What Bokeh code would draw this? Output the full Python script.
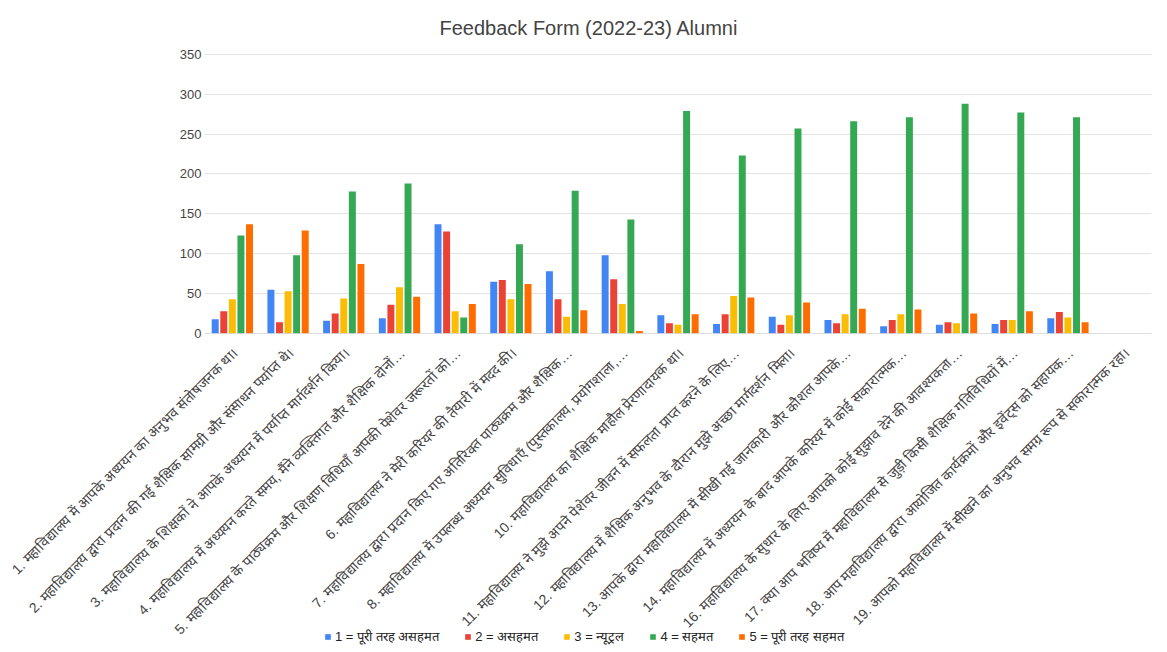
import math
from bokeh.plotting import figure
from bokeh.models import ColumnDataSource, FactorRange, Legend, LegendItem, Range1d, Span
from bokeh.transform import dodge
from bokeh.embed import file_html
from bokeh.resources import INLINE

categories = [
    "1. महाविद्यालय में आपके अध्ययन का अनुभव संतोषजनक था।",
    "2. महाविद्यालय द्वारा प्रदान की गई शैक्षिक सामग्री और संसाधन पर्याप्त थे।",
    "3. महाविद्यालय के शिक्षकों ने आपके अध्ययन में पर्याप्त मार्गदर्शन किया।",
    "4. महाविद्यालय में अध्ययन करते समय, मैंने व्यक्तिगत और शैक्षिक दोनों…",
    "5. महाविद्यालय के पाठ्यक्रम और शिक्षण विधियाँ आपकी पेशेवर जरूरतों को…",
    "6. महाविद्यालय ने मेरी करियर की तैयारी में मदद की।",
    "7. महाविद्यालय द्वारा प्रदान किए गए अतिरिक्त पाठ्यक्रम और शैक्षिक…",
    "8. महाविद्यालय में उपलब्ध अध्ययन सुविधाएँ (पुस्तकालय, प्रयोगशाला,…",
    "10. महाविद्यालय का शैक्षिक माहौल प्रेरणादायक था।",
    "11. महाविद्यालय ने मुझे अपने पेशेवर जीवन में सफलता प्राप्त करने के लिए…",
    "12. महाविद्यालय में शैक्षिक अनुभव के दौरान मुझे अच्छा मार्गदर्शन मिला।",
    "13. आपके द्वारा महाविद्यालय में सीखी गई जानकारी और कौशल आपके…",
    "14. महाविद्यालय में अध्ययन के बाद आपके करियर में कोई सकारात्मक…",
    "16. महाविद्यालय के सुधार के लिए आपको कोई सुझाव देने की आवश्यकता…",
    "17. क्या आप भविष्य में महाविद्यालय से जुड़ी किसी शैक्षिक गतिविधियों में…",
    "18. आप महाविद्यालय द्वारा आयोजित कार्यक्रमों और इवेंट्स को सहायक…",
    "19. आपको महाविद्यालय में सीखने का अनुभव समग्र रूप से सकारात्मक रहा।",
]

series_names = [
    "1 = पूरी तरह असहमत",
    "2 = असहमत",
    "3 = न्यूट्रल",
    "4 = सहमत",
    "5 = पूरी तरह सहमत",
]

nan = float("nan")
s1 = [18, 55, 16, 19, 137, 65, 78, 98, 23, 12, 21, 17, 9, 11, 12, 19, nan]
s2 = [28, 14, 25, 36, 128, 67, 43, 68, 13, 24, 11, 13, 17, 14, 17, 27, nan]
s3 = [43, 53, 44, 58, 28, 43, 21, 37, 11, 47, 23, 24, 24, 13, 17, 20, nan]
s4 = [123, 98, 178, 188, 20, 112, 179, 143, 279, 223, 257, 266, 271, 288, 277, 271, nan]
s5 = [137, 129, 87, 46, 37, 62, 29, 3, 24, 45, 39, 31, 30, 25, 28, 14, nan]

colors = ["#4285F4", "#EA4335", "#FBBC04", "#34A853", "#FF6D01"]
y_ticks = [0, 50, 100, 150, 200, 250, 300, 350]

# layout constants
W = 1155
LEFT = 204
RIGHT = 4
TOP = 52
FRAME_H = 281
BOTTOM1 = 12
H1 = TOP + FRAME_H + BOTTOM1
H2 = 652 - H1

source = ColumnDataSource(dict(cat=categories, s1=s1, s2=s2, s3=s3, s4=s4, s5=s5))

p = figure(
    x_range=FactorRange(factors=categories, range_padding=0),
    y_range=Range1d(0, 351),
    width=W, height=H1,
    output_backend="svg", toolbar_location=None,
    min_border_left=LEFT, min_border_right=RIGHT, min_border_top=TOP, min_border_bottom=BOTTOM1,
)

pitch = 0.154
keys = ["s1", "s2", "s3", "s4", "s5"]
for i, key in enumerate(keys):
    p.vbar(x=dodge("cat", (i - 2) * pitch, range=p.x_range), top=key, width=0.125,
           source=source, fill_color=colors[i], line_color=None)

p.title.text = "Feedback Form (2022-23) Alumni"
p.title.align = "left"
p.title.offset = 235
p.title.standoff = 29
p.title.text_font = "Liberation Sans"
p.title.text_font_size = "20px"
p.title.text_font_style = "normal"
p.title.text_color = "#444444"

p.outline_line_color = None
p.border_fill_color = "white"

p.xgrid.grid_line_color = None
p.ygrid.grid_line_color = "#e3e3e3"
p.ygrid.ticker = y_ticks

p.yaxis.ticker = y_ticks
p.yaxis.axis_line_color = None
p.yaxis.major_tick_line_color = None
p.yaxis.minor_tick_line_color = None
p.yaxis.major_tick_out = 0
p.yaxis.major_tick_in = 0
p.yaxis.minor_tick_out = 0
p.yaxis.major_label_text_font = "Liberation Sans"
p.yaxis.major_label_text_font_size = "13px"
p.yaxis.major_label_text_color = "#444444"
p.yaxis.major_label_standoff = 3

p.xaxis.visible = False
p.add_layout(Span(location=0, dimension="width", line_color="#bdbdbd", line_width=1))

# second figure: rotated category labels and legend, on the same horizontal scale
n = len(categories)
px_per_unit = (W - LEFT - RIGHT) / n
p2 = figure(
    x_range=Range1d(-LEFT / px_per_unit, (W - LEFT) / px_per_unit),
    y_range=Range1d(-H2, 0),
    width=W, height=H2,
    output_backend="svg", toolbar_location=None,
    min_border_left=0, min_border_right=0, min_border_top=0, min_border_bottom=0,
)
p2.axis.visible = False
p2.grid.visible = False
p2.outline_line_color = None

label_src = ColumnDataSource(dict(x=[i + 0.5 for i in range(n)], y=[-5] * n, text=categories))
p2.text(x="x", y="y", text="text", source=label_src, angle=math.pi / 4,
        text_align="right", text_baseline="middle", x_offset=3,
        text_font={"value": "Liberation Sans"}, text_font_size="14px", text_color="#444444")

dummy = ColumnDataSource(dict(x=[nan], top=[nan]))
legend_renderers = [p2.vbar(x="x", top="top", width=0.1, source=dummy,
                            fill_color=colors[i], line_color=None)
                    for i in range(5)]
legend = Legend(
    items=[LegendItem(label=series_names[i], renderers=[legend_renderers[i]]) for i in range(5)],
    orientation="horizontal",
    location=(324, 7),
    label_text_font="Liberation Sans",
    label_text_font_size="13px",
    label_text_color="#222222",
    glyph_width=7, glyph_height=7,
    spacing=25,
    label_standoff=4,
    border_line_color=None,
    background_fill_alpha=0,
    padding=2, margin=0,
)
p2.add_layout(legend)

open("out.html", "w").write(file_html([p, p2], INLINE))
